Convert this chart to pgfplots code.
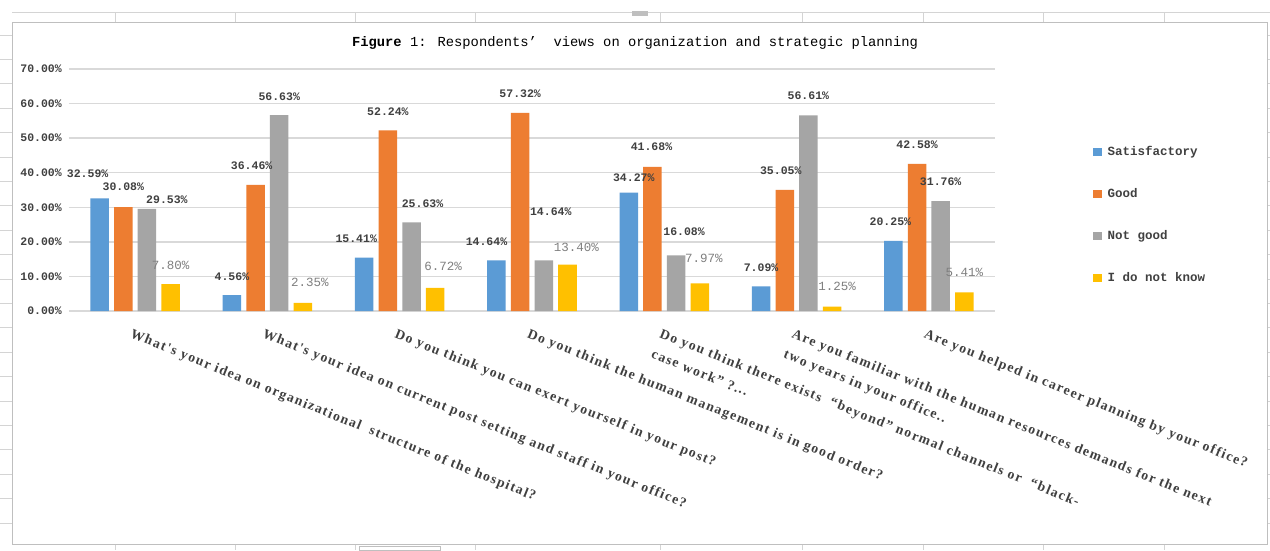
\documentclass[border=0pt]{standalone}
\usepackage{fontspec}
\usepackage{pgfplots}
\usepackage{pgfplotstable}
\pgfplotsset{compat=1.18}
\setmainfont{Liberation Serif}
\newfontfamily\monof{Liberation Mono}
\newfontfamily\catf[LetterSpace=10]{Liberation Serif}

\definecolor{cblue}{HTML}{5B9BD5}
\definecolor{corange}{HTML}{ED7D31}
\definecolor{cgray}{HTML}{A5A5A5}
\definecolor{cyellow}{HTML}{FFC000}
\definecolor{gridgray}{HTML}{D9D9D9}
\definecolor{labgray}{HTML}{404040}
\definecolor{lightlab}{HTML}{7F7F7F}
\definecolor{framegray}{HTML}{BFBFBF}
\definecolor{cellgray}{HTML}{D4D4D4}

% x = question, y = percent, dx/dy = label offset from bar top (pt)
\pgfplotstableread{
x y dx dy
0 32.59 -12 25
1 4.56 0 19
2 15.41 -8 19
3 14.64 -10 19
4 34.27 5 15
5 7.09 0 19
6 20.25 -3 19
}\tsat
\pgfplotstableread{
x y dx dy
0 30.08 0 20
1 36.46 -4 19
2 52.24 0 19
3 57.32 0 19
4 41.68 -1 20
5 35.05 -4 19
6 42.58 0 19
}\tgood
\pgfplotstableread{
x y dx dy
0 29.53 20 9
1 56.63 0 19
2 25.63 11 19
3 14.64 7 49
4 16.08 8 24
5 56.61 0 20
6 31.76 0 19
}\tnot
\pgfplotstableread{
x y dx dy
0 7.80 0 19
1 2.35 7 20
2 6.72 8 21
3 13.40 9 17
4 7.97 4 25
5 1.25 5 20
6 5.41 0 20
}\tdk

\begin{document}
\begin{tikzpicture}
\path[use as bounding box] (0,0) rectangle (1270pt,550pt);
\fill[white] (0,0) rectangle (1270pt,550pt);
% spreadsheet cells behind the chart
\draw[cellgray, line width=0.8pt] (12pt,537.3pt) -- (1270pt,537.3pt);
\foreach \cx in {115,235,355,475,660,802,923,1043,1164}{
  \draw[cellgray, line width=0.8pt] (\cx pt,537.3pt) -- (\cx pt,527.3pt);
  \draw[cellgray, line width=0.8pt] (\cx pt,6pt) -- (\cx pt,0pt);
}
\foreach \ry in {35,59.4,...,530}{
  \draw[cellgray, line width=0.8pt] (0pt,550pt-\ry pt) -- (12pt,550pt-\ry pt);
  \draw[cellgray, line width=0.8pt] (1267pt,550pt-\ry pt) -- (1270pt,550pt-\ry pt);
}
\fill[framegray] (632pt,539pt) rectangle (648pt,534pt);
\draw[framegray, line width=1pt] (359pt,0pt) rectangle (440pt,4pt);
\draw[framegray, line width=1pt] (12.5pt,6pt) rectangle (1267pt,527.3pt);

\node[font=\monof\fontsize{13.8}{16}\selectfont, text=black] at (635pt,507pt)
  {\textbf{Figure} 1: Respondents’\ \ views on organization and strategic planning};

\begin{axis}[
  at={(69pt,239pt)}, anchor=south west,
  scale only axis, width=926pt, height=242pt,
  ybar, bar width=18.5pt,
  xmin=-0.5, xmax=6.5, ymin=0, ymax=70,
  clip=false,
  axis line style={draw=none},
  major tick length=0pt,
  ymajorgrids, grid style={draw=gridgray, line width=1.3pt},
  ytick={0,10,...,70},
  /pgf/number format/assume math mode=true,
  yticklabel={\pgfmathprintnumber[fixed,fixed zerofill,precision=2]{\tick}\%},
  yticklabel style={font=\monof\bfseries\fontsize{11.5}{12}\selectfont, text=labgray, anchor=east, inner sep=0pt, xshift=-7pt},
  xtick={0,...,6},
  xticklabels={
    {What's your idea on organizational\ \ structure of the hospital?},
    {What's your idea on current post setting and staff in your office?},
    {Do you think you can exert yourself in your post?},
    {Do you think the human management is in good order?},
    {Do you think there exists\ \ “beyond” normal channels or\ \ “black-\\case work” ?{.}{.}{.}},
    {Are you familiar with the human resources demands for the next\\two years in your office{.}{.}},
    {Are you helped in career planning by your office?}
  },
  xticklabel style={font=\catf\bfseries\fontsize{13.8}{22}\selectfont, text=labgray, align=left, inner sep=0pt, xshift=-2pt, yshift=-17pt, rotate=-22, anchor=north west},
  nodes near coords={\pgfmathprintnumber[fixed,fixed zerofill,precision=2]{\pgfplotspointmeta}\%},
  point meta=y,
  visualization depends on={\thisrow{dx} \as \dx},
  visualization depends on={\thisrow{dy} \as \dy},
  every node near coord/.append style={anchor=center, inner sep=0pt, xshift=\dx pt, yshift=\dy pt,
    font=\monof\bfseries\fontsize{11.5}{12}\selectfont, text=labgray},
  legend style={draw=none, fill=none, at={(1.1058,0.682)}, anchor=north west, inner sep=0pt,
    row sep=30pt, nodes={inner sep=0pt, text height=9pt, text depth=3pt},
    font=\monof\bfseries\fontsize{12.5}{14}\selectfont, text=labgray,
    /tikz/every odd column/.append style={column sep=6pt}},
  legend cell align=left,
  legend image code/.code={\fill[#1] (0pt,-4pt) rectangle (8.5pt,4.5pt);},
]
\addplot[fill=cblue, draw=none, bar shift=-35.5pt] table[x=x,y=y] {\tsat};
\addplot[fill=corange, draw=none, bar shift=-11.8pt] table[x=x,y=y] {\tgood};
\addplot[fill=cgray, draw=none, bar shift=11.8pt] table[x=x,y=y] {\tnot};
\addplot[fill=cyellow, draw=none, bar shift=35.5pt,
  every node near coord/.append style={font=\monof\fontsize{12.5}{14}\selectfont, text=lightlab}]
  table[x=x,y=y] {\tdk};
\legend{Satisfactory, Good, Not good, I do not know}
\end{axis}
\end{tikzpicture}
\end{document}
